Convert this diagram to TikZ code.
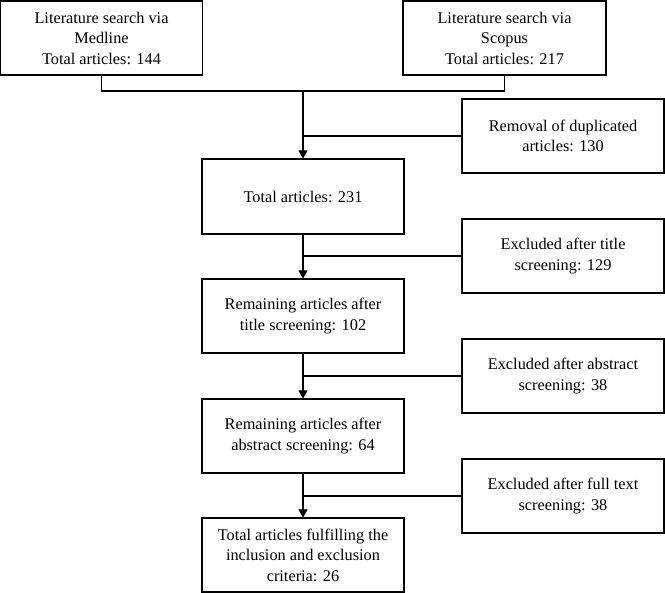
\documentclass[tikz,border=0pt]{standalone}
\usepackage{fontspec}
\setmainfont{Liberation Serif}
\usetikzlibrary{arrows.meta}
\begin{document}
\begin{tikzpicture}[x=1pt,y=1pt,
  box/.style={draw,line width=1.1pt,rectangle,minimum width=202pt,minimum height=74pt,align=center,inner sep=2pt,font=\fontsize{16.3}{20.5}\selectfont},
  conn/.style={line width=1.1pt},
  arr/.style={line width=1.1pt,-{Triangle[width=9pt,length=8pt]}}]
\useasboundingbox (0,0) rectangle (665,-593);
\node[box] (med) at (101.5,-38) {Literature search via\\Medline\\Total articles: 144};
\node[box,minimum width=203pt] (sco) at (504.5,-38) {Literature search via\\Scopus\\Total articles: 217};
\node[box] (dup) at (563,-136) {Removal of duplicated\\articles: 130};
\node[box,minimum height=75pt] (tot) at (303,-196.5) {Total articles: 231};
\node[box] (ext) at (563,-256) {Excluded after title\\screening: 129};
\node[box] (rt) at (303,-316) {Remaining articles after\\title screening: 102};
\node[box] (exa) at (563,-376) {Excluded after abstract\\screening: 38};
\node[box] (ra) at (303,-436) {Remaining articles after\\abstract screening: 64};
\node[box] (exf) at (563,-496) {Excluded after full text\\screening: 38};
\node[box] (fin) at (303,-555) {Total articles fulfilling the\\inclusion and exclusion\\criteria: 26};
\coordinate (j) at (303,-91);
\draw[conn] (med.south) |- (j) -| (sco.south);
\draw[arr] (j) -- (tot.north);
\draw[conn] (dup.west) -- (dup.west -| j);
\draw[arr] (tot.south) -- (rt.north);
\draw[conn] (ext.west) -- (ext.west -| tot.south);
\draw[arr] (rt.south) -- (ra.north);
\draw[conn] (exa.west) -- (exa.west -| rt.south);
\draw[arr] (ra.south) -- (fin.north);
\draw[conn] (exf.west) -- (exf.west -| ra.south);
\end{tikzpicture}
\end{document}
